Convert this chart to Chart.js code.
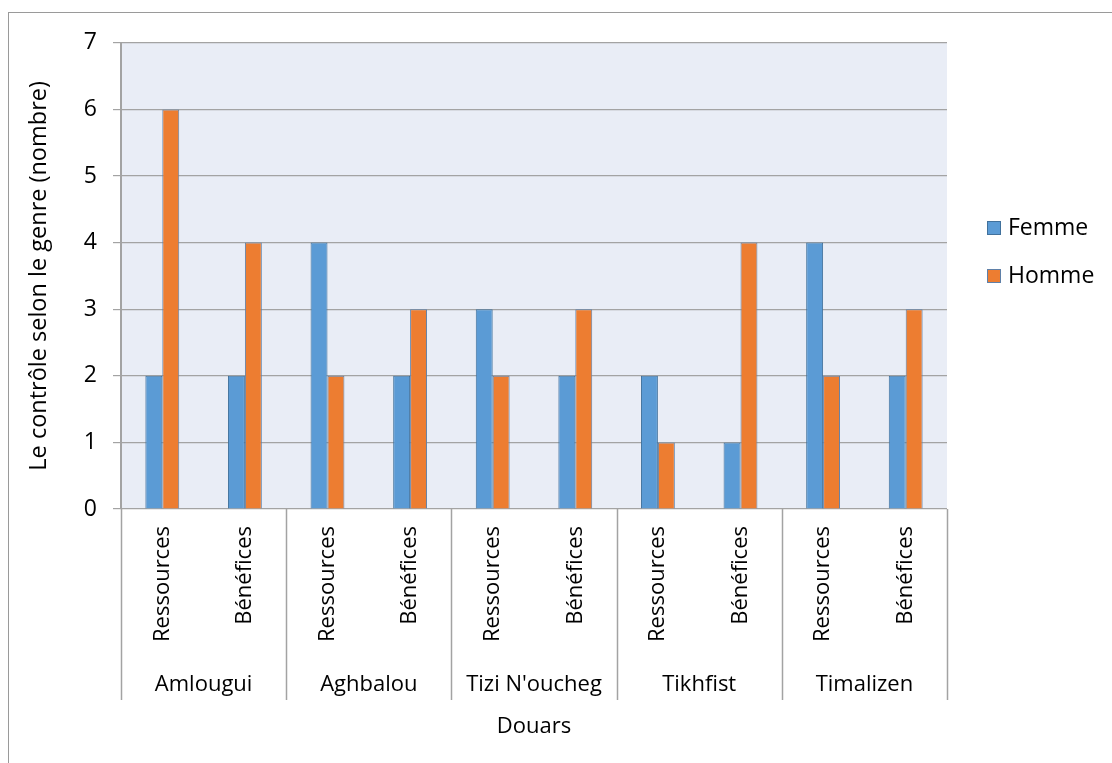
<!DOCTYPE html>
<html>
<head>
<meta charset="utf-8">
<title>Contrôle selon le genre</title>
<script src="https://cdn.jsdelivr.net/npm/chart.js@4"></script>
<style>
  html, body { margin: 0; padding: 0; background: #fff; overflow: hidden; }
  #frame {
    position: absolute; left: 8px; top: 12px;
    width: 1104px; height: 751px;
    border-left: 1px solid #9a9a9a; border-top: 1px solid #9a9a9a;
  }
  canvas { display: block; }
</style>
</head>
<body>
<div id="frame"><canvas id="chart" width="1103" height="750"></canvas></div>
<script>
// Douars and the two aspects measured in each one
const douars = ['Amlougui', 'Aghbalou', "Tizi N'oucheg", 'Tikhfist', 'Timalizen'];
const aspects = ['Ressources', 'Bénéfices'];
const yTicks = [0, 1, 2, 3, 4, 5, 6, 7];

// Counts per douar, Ressources then Bénéfices
const femme = [2, 2, 4, 2, 3, 2, 2, 1, 4, 2];
const homme = [6, 4, 2, 3, 2, 3, 1, 4, 2, 3];

const labels = douars.flatMap(() => aspects);

const gridGrey = '#a3a3a3';
const textFont = { family: "'Open Sans', sans-serif", size: 22 };

Chart.defaults.font.family = textFont.family;
Chart.defaults.font.size = textFont.size;
Chart.defaults.color = '#000';

// plot background, group separators, douar names and the legend
const excelLook = {
    id: 'excelLook',
    beforeDraw(chart) {
        const { ctx, chartArea: a } = chart;
        ctx.save();
        ctx.fillStyle = '#e9edf6';
        ctx.fillRect(a.left, a.top, a.right - a.left, a.bottom - a.top);
        ctx.restore();
    },
    afterDraw(chart) {
        const { ctx, chartArea: a } = chart;
        const step = (a.right - a.left) / douars.length;
        const lineBottom = 687;
        ctx.save();
        ctx.strokeStyle = gridGrey;
        ctx.lineWidth = 1.5;
        for (let k = 0; k <= douars.length; k++) {
            const x = Math.round(a.left + step * k) + 0.5;
            ctx.beginPath();
            ctx.moveTo(x, a.bottom);
            ctx.lineTo(x, lineBottom);
            ctx.stroke();
        }
        ctx.fillStyle = '#000';
        ctx.font = `${textFont.size}px ${textFont.family}`;
        ctx.textAlign = 'center';
        ctx.textBaseline = 'middle';
        douars.forEach((d, k) => {
            ctx.fillText(d, a.left + step * (k + 0.5), 672);
        });

        // legend
        const legendX = 978;
        const rows = [215, 263];
        ctx.textAlign = 'left';
        ctx.font = `23px ${textFont.family}`;
        chart.data.datasets.forEach((ds, i) => {
            const y = rows[i];
            ctx.fillStyle = ds.backgroundColor;
            ctx.fillRect(legendX, y - 7, 14, 14);
            ctx.strokeStyle = ds.borderColor;
            ctx.lineWidth = 1;
            ctx.strokeRect(legendX + 0.5, y - 6.5, 13, 13);
            ctx.fillStyle = '#000';
            ctx.fillText(ds.label, legendX + 21, y);
        });
        ctx.restore();
    }
};

new Chart(document.getElementById('chart'), {
    type: 'bar',
    data: {
        labels: labels,
        datasets: [
            {
                label: 'Femme',
                data: femme,
                backgroundColor: '#5b9bd5',
                borderColor: '#41719c',
                borderWidth: 1
            },
            {
                label: 'Homme',
                data: homme,
                backgroundColor: '#ed7d31',
                borderColor: '#5f80a8',
                borderWidth: 1
            }
        ]
    },
    options: {
        responsive: false,
        animation: false,
        devicePixelRatio: 1,
        categoryPercentage: 0.41,
        barPercentage: 1,
        layout: { padding: { top: 29, right: 165, bottom: 0, left: 0 } },
        plugins: {
            legend: { display: false },
            tooltip: { enabled: false }
        },
        scales: {
            x: {
                grid: { display: false, drawTicks: false, tickLength: 0 },
                border: { display: false },
                ticks: {
                    autoSkip: false,
                    minRotation: 90,
                    maxRotation: 90,
                    padding: 17
                },
                title: {
                    display: true,
                    text: 'Douars',
                    padding: { top: 0, bottom: 23 }
                },
                afterFit(scale) { scale.height = 254; }
            },
            y: {
                min: 0,
                max: 7,
                afterBuildTicks(scale) {
                    scale.ticks = yTicks.map(v => ({ value: v }));
                },
                grid: { color: gridGrey, lineWidth: 1.2, tickLength: 8 },
                border: { display: true, color: gridGrey, width: 2 },
                ticks: { padding: 16, font: { size: 23 } },
                title: {
                    display: true,
                    text: 'Le contrôle selon le genre (nombre)',
                    font: { size: 23.5 },
                    padding: { top: 16, bottom: 0 }
                },
                afterFit(scale) { scale.width = 112; }
            }
        }
    },
    plugins: [excelLook]
});
</script>
</body>
</html>
